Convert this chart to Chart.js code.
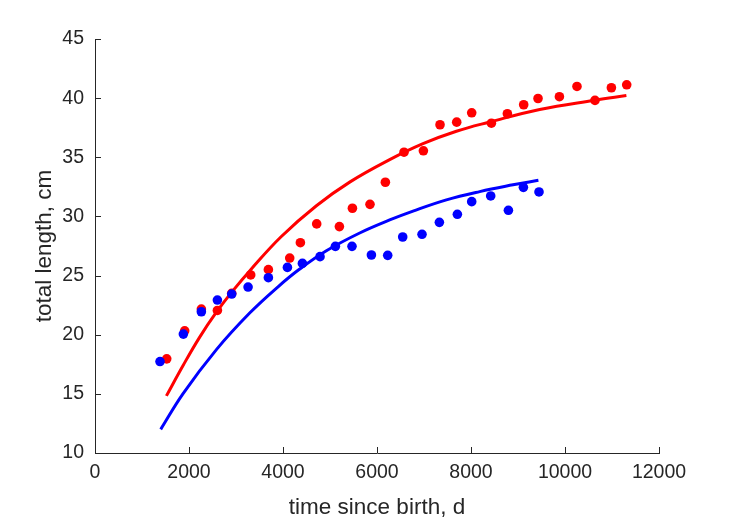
<!DOCTYPE html>
<html>
<head>
<meta charset="utf-8">
<script src="https://cdn.jsdelivr.net/npm/chart.js@4.4.0/dist/chart.umd.min.js"></script>
<style>
  html, body { margin: 0; padding: 0; background: #ffffff; }
  canvas { display: block; }
</style>
</head>
<body>
<canvas id="chart" width="729" height="521"></canvas>
<script>
// ---- data ----
const redDays = [1526, 1908, 2263, 2604, 2909, 3313, 3689, 4143, 4370, 4717, 5200, 5477, 5851, 6178,
                 6575, 6987, 7341, 7696, 8015, 8434, 8774, 9121, 9426, 9881, 10255, 10638, 10987, 11313];
const redLength = [17.96, 20.33, 22.17, 22.05, 23.5, 25.05, 25.5, 26.48, 27.78, 29.37, 29.14, 30.69, 31.02, 32.89,
                   35.43, 35.55, 37.75, 37.97, 38.76, 37.88, 38.68, 39.44, 39.97, 40.12, 40.99, 39.81, 40.88, 41.13];

const blueDays = [1383, 1880, 2263, 2604, 2909, 3257, 3689, 4094, 4413, 4788, 5115, 5468, 5881, 6228,
                  6547, 6958, 7327, 7710, 8015, 8419, 8796, 9115, 9447];
const blueLength = [17.73, 20.05, 21.94, 22.93, 23.44, 24.03, 24.82, 25.69, 26.03, 26.6, 27.47, 27.47, 26.74, 26.71,
                    28.26, 28.49, 29.5, 30.18, 31.25, 31.73, 30.52, 32.46, 32.07];

const redFitDays = [1519, 1874, 2228, 2583, 2909, 3313, 3965, 4711, 5419, 6270, 6979, 7689, 8398, 9462, 10632, 11306];
const redFitLength = [14.83, 17.4, 19.8, 21.9, 23.6, 25.5, 28.3, 30.9, 32.9, 34.8, 36.15, 37.2, 37.98, 39.04, 39.82, 40.22];

const blueFitDays = [1398, 1874, 2583, 3291, 3894, 4355, 4923, 5632, 6270, 6766, 7477, 8185, 8894, 9434];
const blueFitLength = [12.0, 15.02, 18.74, 21.83, 24.05, 25.55, 27.1, 28.6, 29.7, 30.45, 31.4, 32.1, 32.67, 33.06];

const xTickValues = [0, 2000, 4000, 6000, 8000, 10000, 12000];
const yTickValues = [10, 15, 20, 25, 30, 35, 40, 45];

const xTitle = 'time since birth, d';
const yTitle = 'total length, cm';

// ---- helpers ----
const pairs = (xs, ys) => xs.map((x, i) => ({ x: x, y: ys[i] }));
const AXIS_COLOR = '#262626';
const FONT = "'Liberation Sans', Arial, Helvetica, sans-serif";

const insideTicks = {
  id: 'insideTicks',
  beforeDatasetsDraw(chart) {
    const ctx = chart.ctx;
    const xs = chart.scales.x, ys = chart.scales.y;
    const area = chart.chartArea;
    const len = 6;
    ctx.save();
    ctx.strokeStyle = AXIS_COLOR;
    ctx.lineWidth = 1;
    ctx.beginPath();
    xs.ticks.forEach(t => {
      const px = Math.round(xs.getPixelForValue(t.value)) + 0.5;
      ctx.moveTo(px, area.bottom);
      ctx.lineTo(px, area.bottom - len);
    });
    ys.ticks.forEach(t => {
      const py = Math.round(ys.getPixelForValue(t.value)) + 0.5;
      ctx.moveTo(area.left, py);
      ctx.lineTo(area.left + len, py);
    });
    ctx.stroke();
    ctx.restore();
  }
};

new Chart(document.getElementById('chart'), {
  type: 'scatter',
  data: {
    datasets: [
      { label: 'blue data', data: pairs(blueDays, blueLength), pointRadius: 4.8, pointBorderWidth: 0,
        pointBackgroundColor: '#0000ff', borderColor: '#0000ff', backgroundColor: '#0000ff', showLine: false },
      { label: 'red data', data: pairs(redDays, redLength), pointRadius: 4.8, pointBorderWidth: 0,
        pointBackgroundColor: '#ff0000', borderColor: '#ff0000', backgroundColor: '#ff0000', showLine: false },
      { label: 'blue fit', data: pairs(blueFitDays, blueFitLength), showLine: true, pointRadius: 0,
        borderColor: '#0000ff', borderWidth: 3, tension: 0.4, fill: false },
      { label: 'red fit', data: pairs(redFitDays, redFitLength), showLine: true, pointRadius: 0,
        borderColor: '#ff0000', borderWidth: 3, tension: 0.4, fill: false }
    ]
  },
  options: {
    responsive: false,
    devicePixelRatio: 1,
    animation: false,
    events: [],
    layout: { padding: { left: 0, right: 70, top: 39, bottom: 0 } },
    plugins: { legend: { display: false }, tooltip: { enabled: false } },
    scales: {
      x: {
        type: 'linear', min: 0, max: 12000,
        afterBuildTicks: s => { s.ticks = xTickValues.map(v => ({ value: v })); },
        afterFit: s => { s.height = 68; },
        grid: { display: false, drawTicks: false },
        border: { display: true, color: AXIS_COLOR, width: 1 },
        ticks: { color: AXIS_COLOR, font: { family: FONT, size: 19.5 }, padding: 8, maxRotation: 0, autoSkip: false,
                 callback: v => String(v) },
        title: { display: true, text: xTitle, color: AXIS_COLOR, font: { family: FONT, size: 22.5 }, padding: { top: 0, bottom: 0 } }
      },
      y: {
        type: 'linear', min: 10, max: 45,
        afterBuildTicks: s => { s.ticks = yTickValues.map(v => ({ value: v })); },
        afterFit: s => { s.width = 95; },
        grid: { display: false, drawTicks: false },
        border: { display: true, color: AXIS_COLOR, width: 1 },
        ticks: { color: AXIS_COLOR, font: { family: FONT, size: 19.5 }, padding: 11, autoSkip: false,
                 callback: v => String(v) },
        title: { display: true, text: yTitle, color: AXIS_COLOR, font: { family: FONT, size: 22.5 }, padding: { top: 31, bottom: 0 } }
      }
    }
  },
  plugins: [insideTicks]
});
</script>
</body>
</html>
